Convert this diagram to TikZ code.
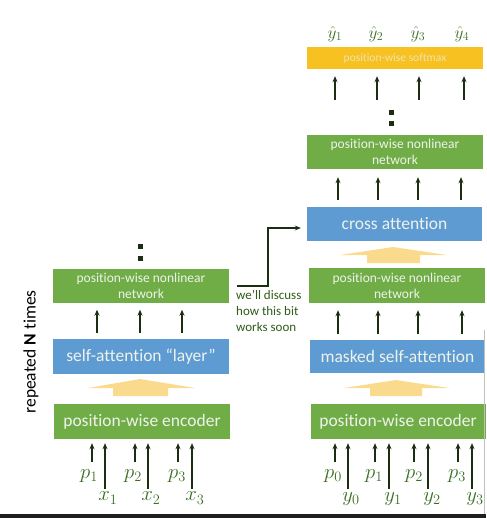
\documentclass[tikz,border=0pt]{standalone}
\usepackage{fontspec}
\setmainfont[Ligatures=NoCommon]{Carlito}
\usetikzlibrary{arrows.meta}
\definecolor{boxgreen}{HTML}{70AD47}
\definecolor{boxblue}{HTML}{5F9BD3}
\definecolor{boxgold}{HTML}{F6C121}
\definecolor{flowyellow}{HTML}{FADB8E}
\definecolor{labgreen}{HTML}{3B6E22}
\definecolor{notegreen}{HTML}{2E5C16}
\definecolor{arrowdark}{HTML}{1C2E12}
\definecolor{boxtext}{HTML}{EEF3EA}
\begin{document}
\begin{tikzpicture}[x=1pt,y=-1pt,
  blockbox/.style={draw=none, inner sep=0pt, align=center, text=boxtext,
    minimum width=176pt, minimum height=35pt},
  greenbox/.style={blockbox, fill=boxgreen},
  bluebox/.style={blockbox, fill=boxblue},
  bigtext/.style={font=\fontsize{17.5}{18}\selectfont},
  smalltext/.style={font=\fontsize{13.5}{16}\selectfont},
  flow/.style={arrowdark, line width=1.3pt, -{Stealth[length=6pt,width=5pt]}},
  sym/.style={text=labgreen, inner sep=0pt, font=\fontsize{20}{20}\selectfont},
  hatsym/.style={sym, font=\fontsize{18}{18}\selectfont},
  dotsq/.style={fill=arrowdark, draw=none, minimum size=5pt, inner sep=0pt},
  widearrow/.style={fill=flowyellow, draw=none}
]
\useasboundingbox (0,0) rectangle (486,518);

% ---------------- encoder stack (left) ----------------
\node[greenbox, smalltext, minimum height=34pt] (lnl) at (141,285.5) {position-wise nonlinear\\network};
\node[bluebox, bigtext] (lsa) at (141,356.5) {self-attention ``layer''};
\node[greenbox, bigtext] (lenc) at (142,421.5) {position-wise encoder};

\node[dotsq] (ld1) at (140,246) {};
\node[dotsq] (ld2) at (140,258) {};

\foreach \dx in {-44,-1,41}
  \draw[flow, shorten <=6pt, shorten >=7pt] ([xshift=\dx pt]lsa.north) -- ([xshift=\dx pt]lnl.south);

% broad arrow from the encoder into self-attention
\fill[widearrow] (88,388) -- (140,379) -- (195,388) -- (168,388) -- (168,396)
  -- (113,396) -- (113,388) -- cycle;

% inputs: positions and tokens
\node[sym] (p1) at (89,476) {$p_1$};
\node[sym] (x1) at (108,498) {$x_1$};
\node[sym] (p2) at (133,476) {$p_2$};
\node[sym] (x2) at (151,498) {$x_2$};
\node[sym] (p3) at (177,476) {$p_3$};
\node[sym] (x3) at (195,498) {$x_3$};
\foreach \x in {92,135,178}
  \draw[flow, shorten >=4pt] (\x,462) -- (\x,462 |- lenc.south);
\foreach \x in {105,148,192}
  \draw[flow, shorten >=4pt] (\x,489) -- (\x,489 |- lenc.south);

\node[rotate=90, font=\fontsize{17.5}{18}\selectfont, text=black] (rep) at (31,352)
  {repeated \textbf{N} times};

% ---------------- decoder stack (right) ----------------
\node[fill=boxgold, draw=none, inner sep=0pt, minimum width=176pt, minimum height=22pt,
  text=boxtext!70!boxgold, font=\fontsize{11.5}{12}\selectfont] (smax) at (395,58) {position-wise softmax};
\node[greenbox, smalltext, minimum height=34pt] (rnl2) at (395,152) {position-wise nonlinear\\network};
\node[bluebox, bigtext, minimum width=175pt, minimum height=34pt] (cross) at (394.5,224) {cross attention};
\node[greenbox, smalltext] (rnl1) at (397,285.5) {position-wise nonlinear\\network};
\node[bluebox, bigtext, minimum width=175pt, minimum height=33pt] (msa) at (397.5,356.5) {masked self-attention};
\node[greenbox, bigtext, minimum width=175pt] (renc) at (398,421.5) {position-wise encoder};

\node[dotsq] (rd1) at (391,113) {};
\node[dotsq] (rd2) at (391,124) {};

% outputs
\node[hatsym] (h1) at (335,34) {$\hat{y}_1$};
\node[hatsym] (h2) at (376,34) {$\hat{y}_2$};
\node[hatsym] (h3) at (418,34) {$\hat{y}_3$};
\node[hatsym] (h4) at (462,34) {$\hat{y}_4$};

\foreach \x in {335,377,419,464}
  \draw[flow, shorten >=7pt] (\x,100) -- (\x,100 |- smax.south);
\foreach \x in {338,378,418,461}
  \draw[flow, shorten >=8pt] (\x,200) -- (\x,200 |- rnl2.south);
\foreach \x in {338,378,418,462}
  \draw[flow, shorten <=6pt, shorten >=7pt] (\x,340) -- (\x,340 |- rnl1.south);

\fill[widearrow] (340,255) -- (393,247) -- (447,255) -- (420,255) -- (420,263)
  -- (367,263) -- (367,255) -- cycle;
\fill[widearrow] (344,388) -- (396,380) -- (449,388) -- (422,388) -- (422,396)
  -- (370,396) -- (370,388) -- cycle;

% inputs: positions and shifted targets
\node[sym] (p0) at (333,476) {$p_0$};
\node[sym] (y0) at (351,499) {$y_0$};
\node[sym] (q1) at (374,476) {$p_1$};
\node[sym] (y1) at (393,499) {$y_1$};
\node[sym] (q2) at (414,476) {$p_2$};
\node[sym] (y2) at (432,499) {$y_2$};
\node[sym] (q3) at (457,476) {$p_3$};
\node[sym] (y3) at (475,499) {$y_3$};
\foreach \x in {335,375,414,458}
  \draw[flow, shorten >=4pt] (\x,462) -- (\x,462 |- renc.south);
\foreach \x in {348,389,428,472}
  \draw[flow, shorten >=4pt] (\x,489) -- (\x,489 |- renc.south);

% encoder output routed to cross attention
\coordinate (tap) at (237,286);
\draw[flow, shorten >=6pt] (tap) -- (268,286) |- ([yshift=-4pt]cross.west);
\node[text=notegreen, align=left, anchor=north west, inner sep=0pt,
  font=\fontsize{13}{16}\selectfont] (note) at (236,290)
  {we'll discuss\\how this bit\\works soon};

% frame edges
\draw[black!25, line width=0.8pt] (484,330) -- (484,514);
\fill[black!88] (0,514) rectangle (486,518);
\end{tikzpicture}
\end{document}
